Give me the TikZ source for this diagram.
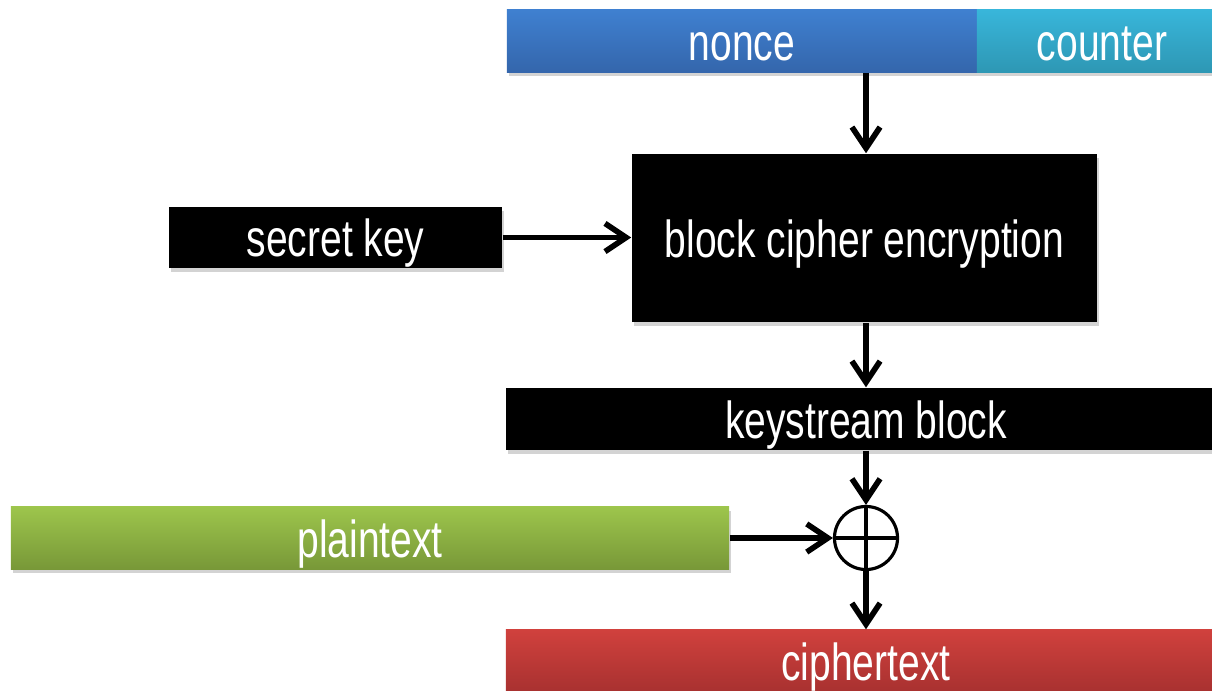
\documentclass[tikz,border=0pt]{standalone}
\usepackage{fontspec}
\setmainfont[FakeStretch=0.75]{Liberation Sans}
\usepackage{tikz}
\usetikzlibrary{arrows.meta,shadows}

\definecolor{nonceTop}{HTML}{3F80D0}
\definecolor{nonceBot}{HTML}{3466AC}
\definecolor{ctrTop}{HTML}{38B6DA}
\definecolor{ctrBot}{HTML}{2E97B4}
\definecolor{plainTop}{HTML}{9DC54C}
\definecolor{plainBot}{HTML}{789838}
\definecolor{cipherTop}{HTML}{D0413D}
\definecolor{cipherBot}{HTML}{A83130}

\tikzset{
  box/.style={rectangle,inner sep=0pt,minimum height=0.62cm,text=white,
    text height=0.38cm,text depth=0pt,
    font=\fontsize{14.8}{16}\selectfont,
    drop shadow={opacity=0.35,shadow xshift=0.6pt,shadow yshift=-1.2pt}},
  blackbox/.style={box,fill=black},
  shade box/.style 2 args={box,top color=#1,bottom color=#2},
  arr/.style={-{Straight Barb[length=6pt,width=8pt,line width=1.6pt]},line width=1.6pt},
  xorop/.style={circle,draw,line width=0.9pt,minimum size=0.63cm,inner sep=0pt,
    path picture={
      \draw[line width=0.9pt] (path picture bounding box.north) -- (path picture bounding box.south)
        (path picture bounding box.west) -- (path picture bounding box.east);}}
}

\begin{document}
\begin{tikzpicture}[x=0.01cm,y=-0.01cm]
    \useasboundingbox (0,0) rectangle (1212,691);

    \node[shade box={nonceTop}{nonceBot},minimum width=4.7cm] (nonce) at (742,41) {nonce};
    \node[shade box={ctrTop}{ctrBot},minimum width=2.5cm] (counter) at (1102,41) {counter};
    \node[blackbox,minimum width=4.65cm,minimum height=1.68cm] (cipher) at (864.5,238) {block cipher encryption};
    \node[blackbox,minimum width=3.33cm,minimum height=0.61cm] (key) at (335.5,237.5) {secret key};
    \node[blackbox,minimum width=7.2cm] (keystream) at (866,419) {keystream block};
    \node[shade box={plainTop}{plainBot},minimum width=7.18cm] (plain) at (370,538) {plaintext};
    \node[xorop] (xor) at (866,538) {};
    \node[shade box={cipherTop}{cipherBot},minimum width=7.2cm] (ctext) at (866,661) {ciphertext};

    \draw[arr] (nonce.south -| xor.north) -- (xor.north |- cipher.north);
    \draw[arr] (key.east) -- (key.east -| cipher.west);
    \draw[arr] (cipher.south -| xor.north) -- (xor.north |- keystream.north);
    \draw[arr] (keystream.south) -- (xor.north);
    \draw[arr] (plain.east) -- (xor.west);
    \draw[arr] (xor.south) -- (ctext.north);
\end{tikzpicture}
\end{document}
